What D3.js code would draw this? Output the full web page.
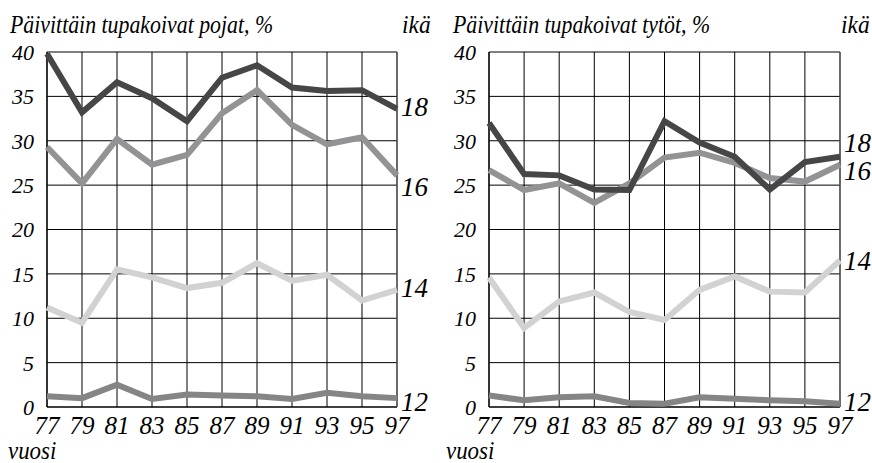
<!DOCTYPE html>
<html><head><meta charset="utf-8">
<script src="https://cdn.jsdelivr.net/npm/d3@7/dist/d3.min.js"></script>
</head>
<body style="margin:0;background:#fff"><svg id="c" width="872" height="463" font-family="Liberation Serif" font-style="italic" style="font-family:'Liberation Serif';font-style:italic"></svg>
<script>
const years = [77,79,81,83,85,87,89,91,93,95,97];
const yTicks = [0,5,10,15,20,25,30,35,40];
const ages = ["12","14","16","18"];
const titles = ["Päivittäin tupakoivat pojat, %","Päivittäin tupakoivat tytöt, %"];
const ageTitle = "ikä";
const xTitle = "vuosi";
// boys (pojat)
const boys12 = [1.2,1.0,2.5,0.9,1.4,1.3,1.2,0.9,1.6,1.2,1.0];
const boys14 = [11.2,9.5,15.5,14.6,13.4,14.0,16.2,14.2,14.9,12.0,13.2];
const boys16 = [29.3,25.2,30.2,27.3,28.4,33.1,35.7,31.8,29.6,30.4,26.1];
const boys18 = [39.8,33.2,36.6,34.8,32.2,37.1,38.5,36.0,35.6,35.7,33.6];
// girls (tytöt)
const girls12 = [1.3,0.75,1.1,1.2,0.45,0.37,1.1,0.94,0.75,0.64,0.37];
const girls14 = [14.6,8.9,11.9,12.9,10.7,9.8,13.2,14.7,13.0,12.9,16.5];
const girls16 = [26.7,24.45,25.2,23.0,25.2,28.1,28.65,27.5,25.8,25.4,27.3];
const girls18 = [32.0,26.25,26.1,24.5,24.45,32.2,29.8,28.2,24.5,27.6,28.2];
// age label anchor values (data units) at right edge
const boysLabelY = [0.6,13.5,24.8,33.9];
const girlsLabelY = [0.65,16.5,26.6,29.8];

const colors = {"12":"#858585","14":"#d2d2d2","16":"#939395","18":"#464646"};

const svg = d3.select("#c");
const panels = [
  {x0:47, x1:397, title:titles[0], series:[boys12,boys14,boys16,boys18], labelY:boysLabelY, tx:10, ikaX:402, vx:8},
  {x0:489, x1:840, title:titles[1], series:[girls12,girls14,girls16,girls18], labelY:girlsLabelY, tx:453, ikaX:841, vx:446}
];
const yTop = 52, yBot = 407;

function txt(sel, size){
  return sel.attr("font-family","Liberation Serif").attr("font-style","italic")
    .attr("font-size",size)
    .attr("style",`font:italic ${size}px 'Liberation Serif'`)
    .attr("fill","#000");
}

panels.forEach(p => {
  const g = svg.append("g");
  const x = d3.scaleLinear().domain([77,97]).range([p.x0,p.x1]);
  const y = d3.scaleLinear().domain([0,40]).range([yBot,yTop]);

  // grid
  g.append("g").selectAll("line").data(yTicks).join("line")
    .attr("x1",p.x0).attr("x2",p.x1).attr("y1",d=>y(d)).attr("y2",d=>y(d))
    .attr("stroke","#000").attr("stroke-width",d=>d===0?1.6:1);
  g.append("g").selectAll("line").data(years).join("line")
    .attr("x1",d=>x(d)).attr("x2",d=>x(d)).attr("y1",yTop).attr("y2",yBot)
    .attr("stroke",d=>d===97?"#444":"#000").attr("stroke-width",d=>(d===77||d===97)?1.6:1);

  // lines
  const line = d3.line().x((d,i)=>x(years[i])).y(d=>y(d));
  p.series.forEach((s,k)=>{
    g.append("path").datum(s).attr("d",line).attr("fill","none")
      .attr("stroke",colors[ages[k]]).attr("stroke-width",6)
      .attr("stroke-linejoin","miter").attr("stroke-linecap","butt");
  });

  // y tick labels
  txt(g.append("g").selectAll("text").data(yTicks).join("text"),22)
    .attr("x",p.x0-13).attr("y",d=>y(d)).attr("dy","0.36em")
    .attr("text-anchor","end").text(d=>d);
  // x tick labels
  txt(g.append("g").selectAll("text").data(years).join("text"),25)
    .attr("x",d=>x(d)).attr("y",434).attr("text-anchor","middle")
    .text(d=>d);
  // age labels
  txt(g.append("g").selectAll("text").data(ages).join("text"),27)
    .attr("x",p.x1+4).attr("y",(d,i)=>y(p.labelY[i])).attr("dy","0.35em")
    .text(d=>d);

  // titles
  txt(g.append("text"),26).attr("transform",`translate(${p.tx},33) scale(0.84,1)`)
    .text(p.title);
  txt(g.append("text"),26).attr("transform",`translate(${p.ikaX},33) scale(0.9,1)`)
    .text(ageTitle);
  txt(g.append("text"),26).attr("transform",`translate(${p.vx},459) scale(0.88,1)`)
    .text(xTitle);
});
</script></body></html>
